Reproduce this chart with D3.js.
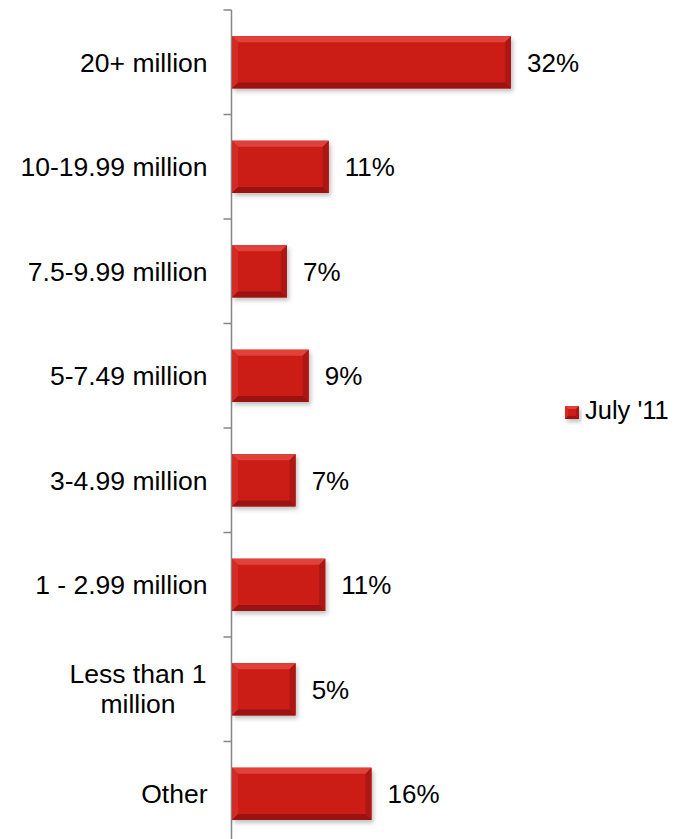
<!DOCTYPE html>
<html>
<head>
<meta charset="utf-8">
<script src="https://cdn.jsdelivr.net/npm/d3@7"></script>
<style>
  html, body { margin: 0; padding: 0; background: #fff; }
  svg { display: block; font-family: Arial, "Liberation Sans", sans-serif; }
</style>
</head>
<body>
<div id="chart"></div>
<script>
// chart data
const categories = [
  "20+ million",
  "10-19.99 million",
  "7.5-9.99 million",
  "5-7.49 million",
  "3-4.99 million",
  "1 - 2.99 million",
  "Less than 1 million",
  "Other",
];
const values = [32, 11.1, 6.3, 8.8, 7.3, 10.7, 7.3, 16];
const valueLabels = ["32%", "11%", "7%", "9%", "7%", "11%", "5%", "16%"];
const seriesName = "July '11";

const colors = {
  bar: "#cc1b17",
  bevelTop: "#e0423b",
  bevelLeft: "#d62a25",
  bevelRight: "#ac1713",
  bevelBottom: "#9a1310",
  axis: "#868686",
  text: "#000",
};

const width = 687;
const height = 839;

const svg = d3.select("#chart").append("svg")
  .attr("width", width)
  .attr("height", height);

const defs = svg.append("defs");
defs.append("filter")
  .attr("id", "shadow")
  .attr("x", "-10%").attr("y", "-20%")
  .attr("width", "130%").attr("height", "160%")
  .append("feDropShadow")
  .attr("dx", 2).attr("dy", 3)
  .attr("stdDeviation", 2)
  .attr("flood-color", "#000")
  .attr("flood-opacity", 0.25);

const y = d3.scaleBand()
  .domain(categories)
  .range([10, 846])
  .paddingInner(0.5)
  .paddingOuter(0.25);

const x = d3.scaleLinear()
  .domain([0, 32])
  .range([232, 511]);

const axisX = 231.5;

// axis line + ticks between categories
const axisG = svg.append("g")
  .attr("stroke", colors.axis)
  .attr("stroke-width", 1.5);
axisG.append("line")
  .attr("x1", axisX).attr("x2", axisX)
  .attr("y1", y.range()[0]).attr("y2", y.range()[1]);
axisG.selectAll("line.tick")
  .data(d3.range(categories.length + 1))
  .join("line")
  .attr("class", "tick")
  .attr("x1", axisX - 8).attr("x2", axisX)
  .attr("y1", (i) => y.range()[0] + i * y.step())
  .attr("y2", (i) => y.range()[0] + i * y.step());

// bevelled bars
function drawBar(g, x0, y0, w, h, b) {
  g.append("rect")
    .attr("x", x0).attr("y", y0)
    .attr("width", w).attr("height", h)
    .attr("fill", colors.bar)
    .attr("filter", "url(#shadow)");
  const x1 = x0 + w, y1 = y0 + h;
  const polys = [
    [[x0, y0], [x1, y0], [x1 - b, y0 + b], [x0 + b, y0 + b], colors.bevelTop],
    [[x0, y0], [x0 + b, y0 + b], [x0 + b, y1 - b], [x0, y1], colors.bevelLeft],
    [[x1, y0], [x1, y1], [x1 - b, y1 - b], [x1 - b, y0 + b], colors.bevelRight],
    [[x0, y1], [x0 + b, y1 - b], [x1 - b, y1 - b], [x1, y1], colors.bevelBottom],
  ];
  polys.forEach((p) => {
    g.append("polygon")
      .attr("points", p.slice(0, 4).map((pt) => pt.join(",")).join(" "))
      .attr("fill", p[4]);
  });
}

const barsG = svg.append("g");
categories.forEach((c, i) => {
  drawBar(barsG, x(0), y(c), x(values[i]) - x(0), y.bandwidth(), 6);
});

// value labels
svg.append("g")
  .selectAll("text")
  .data(categories)
  .join("text")
  .attr("x", (d, i) => x(values[i]) + 16)
  .attr("y", (d) => y(d) + y.bandwidth() / 2)
  .attr("dy", "0.36em")
  .attr("font-size", 26)
  .attr("fill", colors.text)
  .text((d, i) => valueLabels[i]);

// category labels (wrap long ones)
const catG = svg.append("g")
  .attr("font-size", 26.5)
  .attr("fill", colors.text);
categories.forEach((c) => {
  const cy = y(c) + y.bandwidth() / 2;
  if (c === "Less than 1 million") {
    const lines = ["Less than 1", "million"];
    const t = catG.append("text")
      .attr("text-anchor", "middle")
      .attr("y", cy);
    lines.forEach((l, j) => {
      t.append("tspan")
        .attr("x", 138)
        .attr("dy", j === 0 ? "-0.22em" : "1.13em")
        .text(l);
    });
  } else {
    catG.append("text")
      .attr("x", axisX - 24)
      .attr("y", cy)
      .attr("dy", "0.36em")
      .attr("text-anchor", "end")
      .text(c);
  }
});

// legend
const legend = svg.append("g").attr("transform", "translate(565,406)");
drawBar(legend, 0, 0, 14, 13, 3);
legend.append("text")
  .attr("x", 20)
  .attr("y", 13)
  .attr("font-size", 25.5)
  .attr("fill", colors.text)
  .text(seriesName);
</script>
</body>
</html>
